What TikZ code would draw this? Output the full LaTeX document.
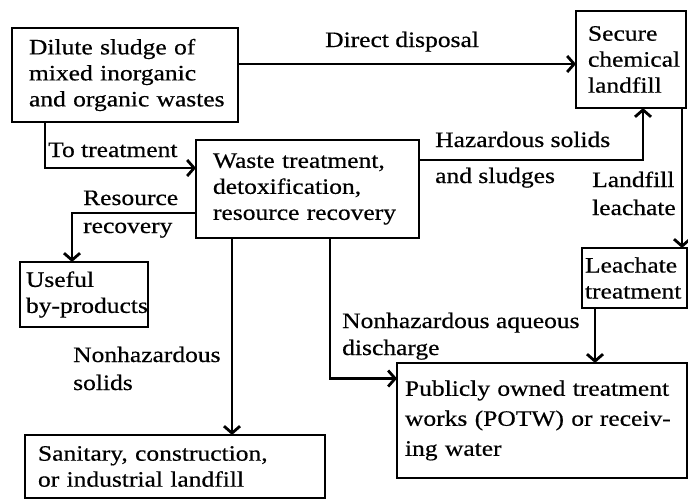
\documentclass[tikz,border=0pt]{standalone}
\usepackage{fontspec}
\setmainfont{Liberation Serif}[FakeStretch=1.16,FakeBold=0.5]
\usetikzlibrary{arrows.meta}
\hyphenpenalty=10000
\exhyphenpenalty=10000
\begin{document}
\begin{tikzpicture}[x=1pt,y=-1pt,
 every node/.style={font=\fontsize{22}{26}\selectfont},
 box/.style={draw, line width=2.8pt, align=left, anchor=north west, inner ysep=0pt, outer sep=0pt},
 lbl/.style={align=left, anchor=base west, inner sep=0pt},
 arr/.style={line width=2.8pt, -{Straight Barb[length=7pt,width=16pt]}}]
\useasboundingbox (0,0) rectangle (688,501);

\node[box, minimum width=226pt, minimum height=94pt, text width=192pt, inner xsep=17pt] (src) at (12,28) {\mbox{Dilute sludge of}\\ \mbox{mixed inorganic}\\ \mbox{and organic wastes}};
\node[box, minimum width=110pt, minimum height=97pt, text width=86pt, inner xsep=12pt] (secure) at (576,11) {\mbox{Secure}\\ \mbox{chemical}\\ \mbox{landfill}};
\node[box, minimum width=223pt, minimum height=98pt, text width=189pt, inner xsep=17pt] (waste) at (196,140) {\mbox{Waste treatment,}\\ \mbox{detoxification,}\\ \mbox{resource recovery}};
\node[box, minimum width=128pt, minimum height=65pt, text width=116pt, inner xsep=6pt] (useful) at (20,262) {\mbox{Useful}\\ \mbox{by-products}};
\node[box, minimum width=105pt, minimum height=60pt, text width=99pt, inner xsep=3pt] (leach) at (582,248) {\mbox{Leachate}\\ \mbox{treatment}};
\node[box, minimum width=290pt, minimum height=115pt, text width=274pt, inner xsep=8pt, font=\fontsize{22}{30}\selectfont] (potw) at (397,363) {\mbox{Publicly owned treatment}\\ \mbox{works (POTW) or receiv-}\\ \mbox{ing water}};
\node[box, minimum width=300pt, minimum height=63pt, text width=274pt, inner xsep=13pt] (san) at (25,435) {\mbox{Sanitary, construction,}\\ \mbox{or industrial landfill}};

\coordinate (d1) at ([yshift=11pt]src.east);
\draw[arr] (d1) -- (d1 -| secure.west);
\coordinate (t1) at ([xshift=33pt]src.south west);
\coordinate (t2) at ([yshift=21pt]waste.west);
\draw[arr] (t1) |- (t2);
\coordinate (h1) at ([yshift=29pt]waste.east);
\coordinate (h2) at ([xshift=12pt]secure.south);
\draw[arr] (h1) -| (h2);
\coordinate (l1) at ([xshift=-4pt]secure.south east);
\draw[arr] (l1) -- (l1 |- leach.north);
\coordinate (p1) at ([xshift=13pt]leach.south west);
\draw[arr] (p1) -- (p1 |- potw.north);
\coordinate (a1) at ([xshift=134pt]waste.south west);
\coordinate (a2) at ([yshift=42pt]potw.west);
\draw[arr] (a1) |- (a2);
\coordinate (s1) at ([xshift=36pt]waste.south west);
\draw[arr] (s1) -- (s1 |- san.north);
\coordinate (r1) at ([yshift=-24pt]waste.west);
\coordinate (r2) at ([xshift=-12pt]useful.north);
\draw[arr] (r1) -| (r2);

\node[lbl] (ldirect) at (325,47) {Direct disposal};
\node[lbl] (ltreat) at (48,157) {To treatment};
\node[lbl, font=\fontsize{22}{36}\selectfont] (lhaz) at (435,183) {Hazardous solids\\ and sludges};
\node[lbl, font=\fontsize{22}{28}\selectfont] (lleach) at (592,215) {Landfill\\ leachate};
\node[lbl, font=\fontsize{22}{28}\selectfont] (lres) at (83,233) {Resource\\ recovery};
\node[lbl, font=\fontsize{22}{28}\selectfont] (lsol) at (73,390) {Nonhazardous\\ solids};
\node[lbl, font=\fontsize{22}{27}\selectfont] (laq) at (342,355) {Nonhazardous aqueous\\ discharge};
\end{tikzpicture}
\end{document}
